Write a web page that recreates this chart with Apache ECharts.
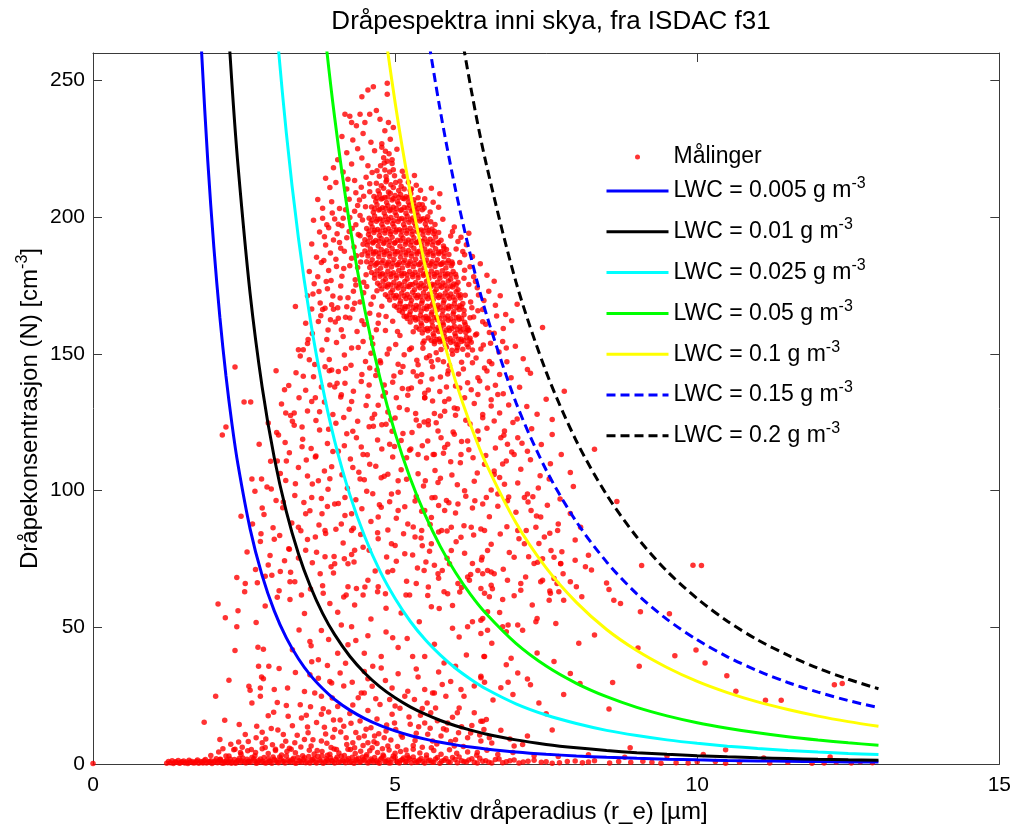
<!DOCTYPE html>
<html><head><meta charset="utf-8">
<script src="https://cdn.jsdelivr.net/npm/echarts@6/dist/echarts.min.js"></script>
<style>html,body{margin:0;padding:0;background:#fff;overflow:hidden}#c{width:1014px;height:829px}</style>
</head><body><div id="c"></div>
<script>
// ---- Data ----
const titleText = 'Dråpespektra inni skya, fra ISDAC f31';
const xName = 'Effektiv dråperadius (r_e) [µm]';
const yName = 'Dråpekonsentrasjon (N) [cm{sup|-3}]';
const xTicks = {min: 0, max: 15, interval: 5};
const yTicks = {min: 0, max: 260, interval: 50};

// radius grid for LWC curves (µm)
const R = [1.6,1.7,1.8,1.9,2.0,2.1,2.2,2.3,2.4,2.6,2.8,3.0,3.2,3.4,3.6,3.8,4.0,4.25,4.5,4.75,5.0,5.25,5.5,5.75,6.0,6.25,6.5,7,7.5,8,8.5,9,9.5,10,10.5,11,11.5,12,12.5,13];
const lwcLabels = ['0.005','0.01','0.025','0.05','0.1','0.15','0.2'];
const N005 = [369.2,307.7,259.3,220.4,189.0,163.3,142.0,124.3,109.4,86.0,68.9,56.0,46.1,38.5,32.4,27.6,23.6,19.7,16.6,14.1,12.1,10.4,9.09,7.95,7.0,6.19,5.51,4.41,3.58,2.95,2.46,2.07,1.76,1.51,1.31,1.14,0.99,0.875,0.774,0.688];
const N01 = [null,null,null,null,378.0,326.5,284.0,248.5,218.8,172.1,137.8,112.0,92.3,76.9,64.8,55.1,47.3,39.4,33.2,28.2,24.2,20.9,18.2,15.9,14.0,12.4,11.0,8.82,7.17,5.91,4.92,4.15,3.53,3.02,2.61,2.27,1.99,1.75,1.55,1.38];
const N025 = [null,null,null,null,null,null,null,null,null,null,344.4,280.0,230.7,192.3,162.0,137.8,118.1,98.5,83.0,70.5,60.5,52.2,45.4,39.8,35.0,31.0,27.5,22.0,17.9,14.8,12.3,10.4,8.82,7.56,6.53,5.68,4.97,4.38,3.87,3.44];
const N05 = [null,null,null,null,null,null,null,null,null,null,null,null,null,null,324.1,275.6,236.3,197.0,165.9,141.1,121.0,104.5,90.9,79.5,70.0,61.9,55.1,44.1,35.8,29.5,24.6,20.7,17.6,15.1,13.1,11.4,9.94,8.75,7.74,6.88];
const N1 = [null,null,null,null,null,null,null,null,null,null,null,null,null,null,null,null,null,null,331.9,282.2,241.9,209.0,181.8,159.1,140.0,123.9,110.1,88.2,71.7,59.1,49.2,41.5,35.3,30.2,26.1,22.7,19.9,17.5,15.5,13.8];
const N15 = [null,null,null,null,null,null,null,null,null,null,null,null,null,null,null,null,null,null,null,null,null,313.5,272.6,238.6,210.0,185.8,165.2,132.2,107.5,88.6,73.9,62.2,52.9,45.4,39.2,34.1,29.8,26.3,23.2,20.6];
const N2 = [null,null,null,null,null,null,null,null,null,null,null,null,null,null,null,null,null,null,null,null,null,null,null,318.1,280.0,247.7,220.2,176.3,143.4,118.1,98.5,83.0,70.5,60.5,52.2,45.4,39.8,35.0,31.0,27.5];

// measurements (flat x,y lists) - r_e [µm], N [cm^-3]
const measBase = [0,0.2,1.22,0.3,1.28,0.5,1.33,0.2,1.38,0.6,1.43,0.3,1.47,0.8,1.52,0.4,1.57,0.2,1.61,0.7,1.66,0.4,1.71,1.0,1.75,0.3,1.8,0.6,1.84,1.2,1.88,0.4,1.93,0.8,1.97,0.2,2.02,1.1,2.06,0.5,2.1,1.6,2.14,0.3,2.19,0.9,2.23,0.5,2.27,1.8,2.31,0.7,2.36,0.3,2.4,1.3,2.44,0.6,2.48,2.2,2.53,0.4,2.57,1.0,2.61,0.6,2.66,1.9,2.7,0.3,2.74,1.2,2.79,0.7,2.83,2.4,2.87,0.5,2.92,1.1,2.96,0.3,3.0,1.7,3.05,0.6,3.09,2.6,3.14,0.9,3.18,0.4,3.23,1.5,3.27,0.7,3.32,2.1,3.36,0.3,3.41,1.2,3.45,0.6,3.5,2.3,3.54,0.9,3.59,0.4,3.63,1.6,3.68,0.7,3.72,2.8,3.77,1.0,3.81,0.3,3.86,1.9,3.9,0.6,3.95,1.3,4.0,0.4,4.04,2.5,4.09,0.8,4.13,1.4,4.18,0.5,4.23,2.0,4.27,0.9,4.32,0.3,4.36,1.7,4.41,0.6,4.46,2.6,4.5,1.1,4.55,0.4,4.6,1.8,4.64,0.7,4.69,1.2,4.74,0.3,4.78,2.2,4.83,0.8,4.88,1.5,4.93,0.5,4.97,2.9,5.02,1.0,5.07,0.4,5.12,1.6,5.17,0.7,5.22,2.3,5.27,0.5,5.32,1.3,5.38,0.8,5.43,2.0,5.49,0.4,5.55,1.1,5.61,0.6,5.67,1.8,5.74,0.3,5.81,1.4,5.88,0.8,5.95,2.4,6.03,0.5,6.1,1.2,6.18,0.7,6.27,1.9,6.36,0.4,6.45,1.0,6.55,0.6,6.66,1.6,6.78,0.5,6.9,1.2,7.05,0.4,7.2,1.0,7.42,0.6,7.6,0.3,7.85,0.9,8.1,0.5,8.3,1.2,8.55,0.4,8.9,0.6,9.1,1.0,9.4,0.3,9.65,0.5,10.0,0.8,10.47,0.3,10.7,0.6,11.2,0.4,11.9,0.3,12.3,0.7,12.55,0.4,12.9,0.5];
const measBase2 = [1.95,3.1,2.08,4.4,2.2,2.9,2.33,5.2,2.45,3.6,2.56,4.8,2.68,3.0,2.8,5.6,2.9,3.8,3.02,4.9,3.12,3.3,3.25,5.8,3.35,4.1,3.47,3.0,3.58,5.0,3.66,3.7,3.79,4.6,3.88,3.2,3.99,5.5,4.07,4.0,4.16,3.1,4.26,5.3,4.34,3.8,4.43,4.7,4.53,3.4,4.62,5.9,4.71,4.2,4.8,3.3,4.9,5.1,5.0,3.9,5.09,4.6,5.2,3.2,5.3,5.4,5.41,4.0,5.52,3.3,5.64,4.9,5.76,3.6,5.9,5.2,6.02,3.9,6.2,4.4,6.35,3.2,6.52,5.0,6.7,3.5,6.95,4.2,7.3,3.0,7.7,2.7,8.2,3.4,8.8,2.5,9.5,2.9,10.1,3.5,11.1,2.2,12.2,2.6];
const measBase3 = [1.25,0.9,1.31,1.2,1.36,0.8,1.41,1.3,1.45,0.5,1.5,1.1,1.55,0.7,1.59,1.4,1.64,0.9,1.69,0.5,1.73,1.5,1.78,0.9,1.82,0.4,1.86,1.6,1.91,0.7,1.95,1.2,2.0,0.6,2.04,1.9,2.08,0.8,2.12,1.2,2.17,0.4,2.21,1.4,2.25,0.9,2.29,0.3,2.34,1.6,2.38,0.8,2.42,2.0,2.46,1.1,2.51,0.7,2.55,1.7,2.59,0.9,2.63,2.4,2.68,1.1,2.72,0.5,2.77,1.8,2.81,1.0,2.85,0.4,2.9,2.0,2.94,0.9,2.98,2.6,3.03,1.2,3.07,0.5,3.11,1.8,3.16,1.1,3.2,2.9,3.25,0.9,3.3,1.6,3.34,0.5,3.39,2.4,3.43,1.0,3.48,1.6,3.52,0.5,3.57,2.7,3.61,1.1,3.66,2.0,3.7,0.4,3.75,1.5,3.79,2.9,3.84,0.8,3.88,1.4,3.93,2.3,3.97,0.9,4.02,1.7,4.06,0.6,4.11,2.8,4.15,1.0,4.2,1.5,4.25,0.6,4.29,2.5,4.34,1.1,4.39,2.1,4.43,0.8,4.48,1.6,4.52,2.7,4.57,0.9,4.62,1.3,4.66,2.4,4.71,0.6,4.76,1.7,4.81,2.8,4.85,1.0,4.9,0.4,4.95,1.9,5.0,2.5,5.04,0.7,5.09,1.3,5.14,2.2,5.19,0.9,5.24,1.8,5.3,2.6,5.35,0.6,5.4,1.5,5.46,0.9,5.52,2.2,5.58,1.4,5.64,0.6,5.7,2.4,5.77,1.0,5.84,2.0,5.91,0.6,5.99,1.6,6.06,2.6,6.14,0.9,6.22,1.5,6.31,0.6,6.4,2.1,6.5,1.2,6.6,0.4,6.72,1.8,6.84,0.8,6.97,1.5,7.12,0.7,7.3,1.4,7.5,0.8,7.72,0.5,7.98,1.1,8.2,0.7,8.7,0.9,9.25,0.6,9.85,0.4,10.3,0.9,11.5,0.6,12.1,0.4,12.7,0.8];
const measLow = [2.38,50.2,2.35,41.5,2.25,30.6,2.03,24.8,1.84,15.3,2.18,16.0,2.42,14.4,2.1,9,2.41,8,2.57,8.2,2.73,42.7,2.82,42,2.74,35.7,2.91,35.7,2.79,31.8,2.82,31.2,2.58,28.4,2.6,27,2.77,27.8,2.77,24.8,2.63,22.3,2.99,18.9,2.8,11.6,2.7,9.6,3.41,49.0,3.61,43.2,3.59,44.8,3.73,38.1,3.78,48.8,4.11,50.8,4.28,50.2,4.22,43.6,4.96,46.2,4.77,39.3,4.63,35.7,4.49,40.5,4.49,33.8,4.29,29.9,4.09,33.3,3.95,29.6,3.92,30.2,3.73,31.4,3.78,24.8,3.67,26,3.81,20.2,3.78,18.2,3.43,21.7,3.23,17.5,3.22,27.8,3.0,27.2,3.59,32.6,3.98,16.1,4.09,16.1,4.0,12.6,4.19,9.6,4.44,26,4.39,24.2,4.49,26,4.77,35.1,4.91,23.6,5.16,24.8,5.21,26.6,5.32,23.6,5.49,27.2,5.62,26,5.53,22.3,5.59,18.7,5.67,20.5,5.84,24.8,6.06,20.5,6.09,27.2,6.14,24.8,5.87,15,6.03,18.7,6.31,18.7,6.42,15.6,6.47,12.6,5.81,36.9,5.65,26,5.62,8.4,5.49,15,5.76,10.2,5.98,6.6,6.2,9.6,6.36,4.2,6.42,8.4,4.99,15,5.01,12.6,4.82,9.6,4.88,6.6,4.66,10.2,4.49,10.2,4.55,7.8,4.3,7.8,4.22,5.4,3.94,6.0,3.92,3.6,3.61,6.6,3.78,8.4,3.56,11.4,3.5,9,3.34,7.8,3.28,5.4,3.13,6.6,3.02,5.4,2.85,6,2.8,7.8,2.69,4.2,2.44,4.2,2.35,5.4,2.25,2.9,2.11,1.7,5.29,39.3,5.49,39.3,6.42,47.7,6.53,48.9,6.06,46.4,6.47,39.3,6.42,31.5,6.31,28.5,6.0,35.7,5.92,30.2,3.3,14,3.45,16.8,3.55,13.5,3.7,15.2,3.85,11,3.9,19,4.05,21,4.15,13.8,4.25,18.5,4.35,11.5,4.42,15.7,4.55,19.6,4.6,13.3,4.7,16.5,4.75,21.8,4.85,12.1,4.95,18.2,5.08,20.4,5.12,9.8,5.25,14.5,5.35,11.2,5.42,17.8,5.58,13.1,5.7,15.8,5.85,12.4,5.95,17.1,6.1,13.6,6.25,11.3,3.15,10.8,2.95,13,3.05,22.5,3.35,33.5,3.5,26.5,3.88,36,4.05,40.5,4.18,36.8,4.62,28.4,4.84,30.5,5.05,33,5.38,31.8,5.72,33.6,6.18,39.9,5.05,42.6,4.55,46.9,3.9,45.5,4.7,7.5,5.3,6.8,5.6,5.9,6.0,8.9,6.42,32.1,6.48,29.9,6.48,39.3,6.92,38.7,6.84,36.3,7.03,33.3,6.87,29.9,7.19,31.1,7.24,29.0,6.95,25.4,6.62,23.4,6.45,15.6,6.51,16.3,6.56,9.6,7.19,10.2,7.11,7.1,6.97,6.6,7.63,37.5,7.38,22.3,7.79,25.4,8.04,44.2,9.02,42.4,9.04,35.7,8.54,20.1,8.06,29.4,7.6,12.4,8.89,5.9,9.63,39.6,9.98,41.7,10.13,36.9,10.49,32.3,10.64,26.6,11.13,23.3,11.39,23.3,12.27,29.0,12.4,29.4,10.47,5.2,6.84,48.4,7.11,48.9];
const measLow2 = [2.15,5.6,2.28,7.2,2.47,6.1,2.52,10.8,2.62,5.3,2.71,13.8,2.86,9.1,2.97,7.0,3.06,12.4,3.19,8.3,3.21,4.6,3.38,10.5,3.44,6.2,3.53,17.8,3.64,8.9,3.71,4.9,3.83,13.4,3.87,7.6,3.97,9.8,4.03,5.3,4.1,11.7,4.2,7.1,4.27,14.9,4.33,5.9,4.4,9.6,4.47,6.8,4.52,12.7,4.58,4.8,4.65,8.1,4.73,11.1,4.79,5.6,4.86,14.3,4.93,8.8,5.04,6.4,5.1,10.6,5.18,5.1,5.23,17.2,5.33,8.6,5.39,13.6,5.45,6.1,5.54,10.9,5.69,7.3,5.8,12.9,5.92,8.2,6.05,11.4,6.13,6.4,6.27,14.1,6.4,10.6,6.6,7.7,6.75,12.3,6.9,9.1,3.6,20.9,3.96,24.1,4.3,21.6,4.68,23.9,5.0,21.2,5.45,20.3,2.9,17.6,3.2,21.4,4.15,28.5,4.55,31.2,4.95,27.8,5.35,34.7,5.78,29.1,3.62,37.4,4.35,45.2,4.85,48.3,5.2,45.9,5.65,43.8,5.95,49.6,3.3,41.8,3.08,34.9,6.6,44.2,6.75,27.9,7.35,40.6,7.5,18.4,7.9,33.1,8.3,47.2,8.6,29.8];
const measMid = [2.07,58.5,2.19,53.5,2.38,68.2,2.52,66,2.51,63,2.4,56,2.7,51.7,2.85,57.8,2.69,71.1,2.85,68.7,2.96,69,3.17,74.3,3.26,66.6,3.34,66.6,3.26,60.2,3.81,62.4,3.76,69.6,3.92,58.7,3.94,72.1,4.16,75.1,4.22,64.8,4.36,64.2,4.19,61.8,4.33,58.1,4.47,61.8,4.55,67.2,4.72,64.8,4.71,63,4.88,70.2,4.96,70.8,5.18,61.8,5.24,61.8,5.1,55.2,6.28,73.3,6.53,70.8,6.45,69.6,6.23,67.2,6.42,64.2,6.56,61.2,5.6,57.5,5.73,56.9,5.81,63,5.78,70.8,5.48,70.8,5.51,73.9,5.65,72.7,3.5,55,3.6,64,4.05,55.5,4.6,53,4.85,57,5.35,66,5.95,58,6.1,64.5,5.4,52,3.05,61,6.45,53.2,6.28,52,6.2,50.2,6.59,70.2,6.48,62.4,6.59,65.4,6.53,55.7,6.42,52.6,6.78,60.2,6.73,55.4,6.87,50.8,7.03,50.8,7.3,73.3,7.44,75.1,7.41,66.6,7.08,66,7.27,58.1,7.35,53.2,7.33,52,7.66,51.4,7.63,67.8,7.68,66,7.57,62.4,7.71,63,7.55,59.9,7.79,59.9,7.74,73.3,7.9,66.6,7.98,74.5,8.09,61.2,8.15,72.1,8.54,63.8,8.62,59.9,8.73,58.7,9.06,55.7,9.54,54.9,9.93,72.7,6.78,50.2,2.14,120.3,2.2,123.2,2.5,132.4,2.61,132.4,2.75,116.9,2.63,104.2,2.79,104.2,2.68,99.7,2.8,93.6,2.64,87.8,2.78,84.2,3.03,143.8,3.17,136.9,3.07,120.3,3.2,110.8,3.05,110.8,3.46,123.2,3.53,111.2,3.68,112.3,3.33,128.4,3.19,128.4,3.3,125.3,3.46,116,3.48,141.8,3.62,132.6,3.68,133.9,3.84,145.3,3.95,144.1,4.06,143.5,3.92,138.6,4.0,137.9,4.17,139.2,4.11,135,4.28,132.6,4.44,139.9,4.58,144.8,5.27,137.5,5.49,133.9,5.82,129,5.76,119.3,5.65,113.2,5.71,102.9,5.5,103.6,5.38,113.2,5.19,112,4.91,116.9,5.0,126.5,4.78,124.1,4.64,123.5,4.36,119.3,4.47,113.2,4.58,109.6,4.42,104.2,4.53,99.7,4.88,106.0,5.05,103.6,4.94,98.7,4.77,93.9,4.72,90.3,5.05,92.7,5.21,87.8,5.33,83,5.16,76.9,4.94,80.5,4.72,82.4,4.47,79.3,4.28,85.4,4.11,87.8,3.84,85.4,3.68,83,3.52,78.2,3.84,75.8,4.0,73.2,4.22,73.2,4.33,78.2,4.0,95.1,3.89,100.5,4.17,97.5,4.28,91.5,3.79,91.5,3.62,97.5,3.52,91.5,3.73,103.6,4.06,114.4,5.38,146,5.44,142.4,5.49,133.9,5.71,147.8,5.82,132.6,5.98,130.2,6.15,133.9,6.07,137.5,6.2,139.4,6.37,141.2,6.48,144.8,6.56,147.2,6.73,142.4,6.59,130.9,6.64,125.4,6.81,121.8,6.86,116.9,6.75,119.3,6.45,127.8,6.37,121.8,6.2,118.1,5.98,120.6,5.71,121.8,5.55,124.1,5.63,113.2,5.87,116.9,6.09,113.2,6.29,112,6.48,109.6,6.64,107.1,6.84,110.8,6.97,113.2,7.03,119.3,7.19,114.4,6.81,102.3,6.7,98.7,6.51,97.5,6.32,96.3,6.15,99.9,6.04,95.1,5.82,92.7,5.66,97.5,5.49,92.7,5.44,85.4,5.6,80.5,5.77,85.4,5.93,86.6,5.93,78.1,6.09,82.9,6.26,86.6,6.48,85.4,6.53,78.1,6.37,70.8,6.2,68.4,6.04,66,5.71,69.6,5.55,64.7,5.87,62.3,6.64,69.6,6.86,67.2,7.08,63.5,7.25,92.7,7.33,86.6,7.41,90.3,7.47,83,7.58,78.1,7.69,85.4,7.63,75.6,7.03,85.4,7.14,80.5,6.97,75.6,7.19,98.7,7.14,97.5,7.28,97.7,6.86,96.3,7.8,136.3,7.19,144.3,8.3,115.1,8.67,96,9.08,72.6,10.07,72.6,7.6,126,8.07,86.6,7.74,73.2,7.44,67.2,6.7,135.1,6.37,135.1,6.53,137.5,6.2,149.6,4.6,150.2,4.75,147.5,4.9,151.8,5.05,146.2,5.15,149.7,4.68,142.1,4.82,138.6,4.98,141.9,5.12,137.3,5.3,143.4,5.42,139.8,4.55,134.5,4.72,131.2,4.88,128.7,5.02,133.9,5.2,129.5,5.35,125.8,4.62,126.4,4.95,121.7,5.1,118.3,5.28,121.2,5.45,116.4,4.78,115.2,5.6,147.2,5.75,141.5,5.9,145.8,6.05,142.6,5.55,136.8,5.85,137.9,6.0,127.5,5.65,128.2,5.55,125.5,5.92,110.5,5.35,97.8,5.6,90.1,5.45,79.8,5.85,96.4,3.35,102.5,3.15,95.8,3.4,86.6,3.0,82.2,3.25,78.5,2.95,100.6,2.9,124.7,3.58,147.8,3.75,128.8,3.9,122.4,4.15,126.7,4.3,108.4,4.2,120.8,3.95,108.7,2.55,77.5,2.45,90.6,3.1,70.4,2.35,145.2];
const measMid2 = [4.22,213.8,4.35,208.9,4.52,214.6,4.41,206.2,4.58,209.3,5.22,212.7,5.31,205.1,5.42,209.8,5.15,214.9,4.62,216.3,5.12,216.8,5.45,204.5,3.96,201.5,4.06,197.4,4.18,202.7,4.29,195.8,4.33,202.1,4.46,198.9,4.51,203.8,4.14,199.6,5.58,201.9,5.66,197.3,5.72,203.6,5.79,199.2,5.63,205.4,3.87,197.2,3.83,192.8,3.93,186.9,4.04,193.9,4.16,187.5,4.24,194.7,4.36,185.9,4.47,190.1,4.39,193.6,4.08,190.7,5.92,193.1,6.01,188.3,6.09,192.6,6.18,189.9,5.98,196.4,6.22,194.1,3.72,178.2,3.82,184.1,3.94,176.8,4.03,181.9,4.12,178.4,4.25,182.2,4.34,177.1,4.43,183.6,4.52,178.9,4.48,176.2,6.07,183.4,6.14,177.6,6.24,181.8,6.33,176.4,6.41,182.9,6.52,178.7,6.28,185.6,3.64,171.9,3.76,168.6,3.88,173.8,3.98,166.3,4.09,170.4,4.2,167.2,4.31,172.9,4.42,168.9,4.53,174.6,4.64,170.8,4.78,167.4,4.7,173.1,6.16,171.4,6.27,166.8,6.36,174.2,6.47,169.5,6.55,172.9,6.66,167.8,6.74,171.2,3.52,161.2,3.63,157.4,3.77,163.9,3.89,158.7,4.01,161.6,4.14,156.3,4.25,163.1,4.37,158.2,4.49,160.7,4.61,155.9,4.73,164.2,4.84,158.5,4.96,161.9,5.08,156.7,5.19,163.7,5.3,158.1,5.12,165.2,6.24,163.2,6.33,156.9,6.45,161.7,6.56,157.8,6.68,163.8,6.79,159.3,6.93,162.1,3.43,149.2,3.55,153.8,3.67,146.1,3.79,151.4,3.91,147.9,4.03,154.1,4.16,149.6,4.27,145.8,4.39,152.3,4.51,147.2,4.63,153.6,4.76,146.7,4.87,149.9,5.01,153.4,5.13,145.4,5.24,151.6,5.36,147.6,5.48,154.7,5.57,149.3,6.34,148.5,6.46,153.2,6.6,146.4,6.72,150.7,6.85,147.1,6.99,152.8,7.12,148.2,3.24,138.4,3.36,143.1,3.52,136.7,3.65,141.6,3.78,137.9,3.91,143.8,4.04,139.2,4.18,144.6,4.31,136.3,4.45,142.4,4.57,138.6,4.7,144.1,4.84,135.8,4.96,139.6,5.09,143.3,5.22,137.1,5.36,141.9,5.49,135.6,5.61,140.8,5.74,136.2,5.87,142.6,6.0,138.2,6.13,144.4,6.26,136.9,6.4,140.1,6.52,143.7,6.66,138.5,6.79,135.4,6.92,141.2,7.06,137.8,7.24,142.9,3.12,131.6,3.27,127.4,3.41,133.9,3.55,129.1,3.69,125.6,3.83,132.4,3.97,127.8,4.1,134.2,4.24,129.7,4.38,125.3,4.52,131.1,4.66,127.9,4.8,134.6,4.93,125.9,5.07,130.4,5.21,134.8,5.34,128.2,5.48,125.1,5.62,132.7,5.75,127.3,5.89,133.5,6.03,129.9,6.17,125.7,6.31,131.8,6.45,126.6,6.59,133.2,6.73,128.4,6.88,131.3,7.02,126.2,7.18,130.7,7.35,127.9,7.5,133.4,3.04,121.2,3.18,117.6,3.33,123.9,3.47,118.8,3.61,115.4,3.75,122.1,3.88,117.2,4.02,124.6,4.16,116.4,4.3,121.7,4.44,115.9,4.57,123.3,4.71,118.5,4.85,124.2,4.99,116.1,5.13,120.9,5.26,115.2,5.4,123.7,5.54,118.1,5.68,124.8,5.82,115.7,5.96,121.4,6.1,117.9,6.24,124.3,6.38,118.7,6.52,122.8,6.66,115.6,6.8,120.2,6.95,124.9,7.1,117.3,7.26,122.6,7.42,116.8,7.6,120.5,2.94,110.7,3.1,106.2,3.25,113.8,3.4,108.4,3.55,105.3,3.69,112.6,3.83,107.1,3.97,114.3,4.12,105.8,4.26,111.5,4.4,106.7,4.54,113.1,4.68,108.9,4.82,105.2,4.96,112.3,5.1,107.6,5.24,114.7,5.38,106.1,5.52,111.9,5.66,107.3,5.8,113.6,5.94,105.7,6.08,110.2,6.22,114.9,6.36,106.4,6.5,112.8,6.64,105.9,6.78,109.7,6.93,114.1,7.08,107.8,7.24,111.3,7.4,105.4,7.57,109.8,7.75,113.2,7.9,106.6,2.88,101.3,3.03,96.4,3.19,103.7,3.34,98.2,3.49,95.6,3.63,102.4,3.78,97.1,3.92,104.3,4.06,95.3,4.21,100.8,4.35,96.6,4.49,103.9,4.63,98.8,4.77,104.7,4.91,95.9,5.05,99.4,5.19,104.1,5.33,96.2,5.47,101.7,5.61,97.4,5.75,104.5,5.89,95.5,6.03,102.1,6.17,97.9,6.31,103.4,6.45,95.1,6.59,100.2,6.73,104.8,6.88,97.6,7.03,102.8,7.2,95.8,7.37,100.9,7.55,104.2,7.73,96.9,7.95,101.5,2.83,91.2,2.98,86.4,3.14,93.7,3.29,88.1,3.44,85.3,3.59,92.6,3.74,87.4,3.88,94.2,4.02,85.8,4.17,90.9,4.31,86.2,4.45,93.3,4.6,88.7,4.74,94.8,4.88,85.6,5.02,89.9,5.16,94.1,5.3,86.7,5.44,92.4,5.58,87.6,5.72,94.5,5.86,85.2,6.0,91.8,6.14,87.1,6.28,93.6,6.42,85.9,6.56,90.4,6.7,94.3,6.85,86.8,7.0,92.1,7.17,85.4,7.34,90.7,7.52,94.6,7.7,87.8,7.9,91.6,2.77,81.4,2.93,76.2,3.09,83.6,3.24,78.7,3.4,75.3,3.55,82.1,3.7,77.4,3.85,84.3,3.99,75.9,4.14,80.8,4.28,76.6,4.43,83.9,4.57,78.2,4.71,84.6,4.86,75.7,5.0,79.9,5.14,84.2,5.29,76.4,5.43,82.6,5.57,77.8,5.72,84.8,5.86,75.2,6.01,81.3,6.15,77.1,6.3,83.7,6.44,75.6,6.59,80.4,6.74,84.1,6.89,77.3,7.05,82.4,7.21,75.8,7.38,80.6,7.56,84.4,7.76,77.6,7.98,81.9,8.2,76.3,2.72,66.3,2.9,72.8,3.08,63.4,3.27,70.1,3.45,61.8,3.63,73.6,3.8,65.2,3.98,69.8,4.15,61.1,4.32,73.9,4.5,64.7,4.67,70.6,4.84,62.3,5.02,74.1,5.19,66.8,5.37,71.7,5.54,61.6,5.72,67.9,5.9,73.2,6.07,62.9,6.25,69.3,6.43,74.6,6.61,64.1,6.79,71.2,6.97,61.5,7.16,68.4,7.36,73.8,7.56,63.3,7.78,69.6,8.0,64.8,8.25,70.9,8.5,66.2];
const measHigh = [4.64,247.7,4.55,246.5,4.45,244,4.87,248.9,4.87,244.9,4.17,237.6,4.25,236.9,4.42,237.6,4.58,237.6,4.69,239,4.28,234.6,4.5,234.6,4.36,233.4,4.75,235.8,4.89,234.6,4.83,231.6,4.97,232.8,4.12,229.5,4.3,228.2,4.47,230.6,4.6,227.4,4.38,225,4.2,223.5,4.05,221,3.98,218,4.14,216.5,4.28,219.4,4.45,221.6,4.55,218.8,4.66,224.3,4.78,226.8,4.92,228.5,5.03,224.8,4.95,221,4.82,219.8,4.7,216.9,4.85,214.8,4.97,217.3,5.08,213.1,3.85,214.2,3.92,210.8,4.02,212.6,4.2,210.3,4.33,213.4,4.44,210.9,4.58,212.2,5.25,209.8,5.38,207.1,5.6,210.5,5.48,203.3,3.72,206.4,3.8,203.2,3.95,205.6,4.08,203.1,4.24,206.5,4.38,204.2,4.48,207.6,3.65,198.8,3.75,194.5,3.62,190.2,3.7,185.3,3.58,180.1,3.66,175.6,3.55,171.2,3.62,166.4,3.8,199.6,3.9,196.1,4.0,199.3,4.12,196.8,4.25,199.8,4.35,197.2,4.42,200.6,3.85,189.8,3.98,191.6,4.1,188.6,4.2,192.4,4.32,189.1,4.42,193.2,3.78,183.4,3.9,180.5,4.02,184.6,4.15,181.2,4.28,184.9,4.38,181.6,4.45,186.2,3.74,172.8,3.86,176.4,3.97,171.1,4.1,174.8,4.22,170.5,4.35,175.2,4.48,172.3,4.6,168.1,3.8,166.2,3.93,162.5,4.05,166.8,4.18,163.4,4.3,166.3,4.45,162.1,4.58,164.8,4.72,161.2,5.74,208.5,5.32,215.2,5.35,211.6,5.27,210.3,5.49,206.7,6.04,191.1,5.95,194.7,5.81,188.6,6.15,186.2,6.64,176.5,6.83,164.4,7.02,168.1,6.37,165.7,3.4,151.5,3.35,167.3,3.48,151.5,3.56,155.2,3.87,155.2,4.47,154.5,4.28,152.1,4.11,158.8,4.06,163.0,3.84,166.7,3.95,167.9,4.33,168.5,3.73,161.8,4.69,158.8,4.85,163.6,5.04,158.2,5.27,152.1,5.46,153.9,5.54,163,5.65,154.5,6.78,154.5,6.64,157.5,6.84,152.1,7.44,159.6,6.04,153.3,5.46,152,6.3,163.5,6.35,157.2,6.42,151.8,6.28,146.7,6.5,160.8,6.58,153.9,6.25,168.9,6.45,166.2,6.38,171.5,6.22,175.3,6.15,180.6,6.12,187.4,6.3,178.2,5.52,148.6,5.68,150.4,5.8,147.1,5.95,149.8,6.1,146.9,5.62,145.3,5.88,143.8,6.02,151.2];
const measCore = [4.78,225.5,4.84,224.1,4.9,223.2,4.81,221.7,4.87,220.4,4.95,219.6,4.76,218.8,4.83,217.2,4.91,216.5,4.99,215.1,4.74,214.9,4.86,213.6,4.69,212.4,4.77,211.5,4.85,212.9,4.93,211.8,5.01,212.6,5.1,211.3,4.72,209.6,4.81,210.5,4.89,209.2,4.97,210.8,5.06,209.7,5.15,210.3,4.65,207.5,4.74,208.4,4.83,207.2,4.92,208.7,5.0,207.9,5.09,208.3,5.18,207.4,5.26,208.6,4.68,205.8,4.77,206.6,4.86,205.3,4.95,206.2,5.04,205.6,5.13,206.9,5.22,205.4,5.31,206.3,4.61,203.7,4.7,204.5,4.79,203.4,4.88,204.1,4.97,203.6,5.06,204.8,5.15,203.5,5.24,204.3,5.33,203.8,5.4,204.6,4.64,201.8,4.73,202.6,4.82,201.5,4.91,202.3,5.0,201.7,5.09,202.5,5.18,201.4,5.27,202.2,5.36,201.9,5.45,202.7,4.57,199.6,4.66,200.4,4.75,199.3,4.84,200.2,4.93,199.8,5.02,200.6,5.11,199.5,5.2,200.3,5.29,199.7,5.38,200.5,5.47,199.4,5.54,200.1,4.6,197.7,4.69,198.5,4.78,197.4,4.87,198.2,4.96,197.6,5.05,198.4,5.14,197.3,5.23,198.1,5.32,197.8,5.41,198.6,5.5,197.5,5.59,198.3,4.53,195.8,4.62,196.4,4.71,195.5,4.8,196.3,4.89,195.7,4.98,196.5,5.07,195.4,5.16,196.2,5.25,195.9,5.34,196.6,5.43,195.3,5.52,196.1,5.61,195.6,4.56,193.6,4.65,194.4,4.74,193.3,4.83,194.2,4.92,193.8,5.01,194.5,5.1,193.4,5.19,194.1,5.28,193.7,5.37,194.6,5.46,193.5,5.55,194.3,5.64,193.9,5.72,194.4,4.5,191.7,4.59,192.5,4.68,191.4,4.77,192.2,4.86,191.8,4.95,192.6,5.04,191.5,5.13,192.3,5.22,191.6,5.31,192.4,5.4,191.3,5.49,192.1,5.58,191.9,5.67,192.7,5.76,191.5,4.54,189.8,4.63,190.5,4.72,189.4,4.81,190.3,4.9,189.6,4.99,190.4,5.08,189.3,5.17,190.1,5.26,189.7,5.35,190.6,5.44,189.5,5.53,190.2,5.62,189.8,5.71,190.5,5.8,189.4,4.5,187.6,4.59,188.3,4.68,187.3,4.77,188.1,4.86,187.7,4.95,188.5,5.04,187.4,5.13,188.2,5.22,187.8,5.31,188.6,5.4,187.5,5.49,188.3,5.58,187.6,5.67,188.4,5.76,187.3,5.85,188.1,4.55,185.8,4.64,186.5,4.73,185.4,4.82,186.2,4.91,185.6,5.0,186.4,5.09,185.3,5.18,186.1,5.27,185.7,5.36,186.5,5.45,185.4,5.54,186.2,5.63,185.9,5.72,186.6,5.81,185.5,5.89,186.3,4.53,183.7,4.62,184.4,4.71,183.3,4.8,184.1,4.89,183.6,4.98,184.5,5.07,183.4,5.16,184.2,5.25,183.8,5.34,184.6,5.43,183.5,5.52,184.3,5.61,183.7,5.7,184.4,5.79,183.3,5.88,184.1,5.94,183.6,4.58,181.6,4.67,182.4,4.76,181.3,4.85,182.2,4.94,181.7,5.03,182.5,5.12,181.4,5.21,182.3,5.3,181.8,5.39,182.6,5.48,181.5,5.57,182.2,5.66,181.9,5.75,182.7,5.84,181.4,5.93,182.2,4.61,179.7,4.7,180.4,4.79,179.3,4.88,180.2,4.97,179.6,5.06,180.5,5.15,179.4,5.24,180.1,5.33,179.8,5.42,180.6,5.51,179.5,5.6,180.3,5.69,179.7,5.78,180.4,5.87,179.3,5.96,180.1,4.66,177.6,4.75,178.4,4.84,177.3,4.93,178.2,5.02,177.7,5.11,178.5,5.2,177.4,5.29,178.2,5.38,177.8,5.47,178.6,5.56,177.5,5.65,178.3,5.74,177.6,5.83,178.4,5.92,177.3,6.01,178.1,4.71,175.8,4.8,176.5,4.89,175.4,4.98,176.2,5.07,175.6,5.16,176.4,5.25,175.3,5.34,176.1,5.43,175.7,5.52,176.5,5.61,175.4,5.7,176.2,5.79,175.9,5.88,176.6,5.97,175.5,6.04,176.2,4.78,173.7,4.87,174.4,4.96,173.3,5.05,174.1,5.14,173.6,5.23,174.5,5.32,173.4,5.41,174.2,5.5,173.8,5.59,174.6,5.68,173.5,5.77,174.3,5.86,173.7,5.95,174.4,6.04,173.4,4.84,171.6,4.93,172.4,5.02,171.3,5.11,172.2,5.2,171.7,5.29,172.5,5.38,171.4,5.47,172.3,5.56,171.8,5.65,172.6,5.74,171.5,5.83,172.2,5.92,171.9,6.01,172.7,6.08,171.6,4.91,169.7,5.0,170.4,5.09,169.3,5.18,170.2,5.27,169.6,5.36,170.5,5.45,169.4,5.54,170.1,5.63,169.8,5.72,170.6,5.81,169.5,5.9,170.3,5.99,169.7,6.08,170.4,4.99,167.6,5.08,168.4,5.17,167.3,5.26,168.2,5.35,167.7,5.44,168.5,5.53,167.4,5.62,168.2,5.71,167.8,5.8,168.6,5.89,167.5,5.98,168.3,6.07,167.6,6.12,168.4,5.07,165.8,5.16,166.5,5.25,165.4,5.34,166.2,5.43,165.6,5.52,166.4,5.61,165.3,5.7,166.1,5.79,165.7,5.88,166.5,5.97,165.4,6.06,166.2,6.14,165.8,5.15,163.7,5.24,164.4,5.33,163.3,5.42,164.1,5.51,163.6,5.6,164.5,5.69,163.4,5.78,164.2,5.87,163.8,5.96,164.6,6.05,163.5,6.14,164.3,5.25,161.6,5.34,162.4,5.43,161.3,5.52,162.2,5.61,161.7,5.7,162.5,5.79,161.4,5.88,162.3,5.97,161.8,6.06,162.6,6.15,161.5,5.35,159.7,5.44,160.4,5.53,159.3,5.62,160.2,5.71,159.6,5.8,160.5,5.89,159.4,5.98,160.1,6.07,159.8,6.16,160.6,6.2,159.5,5.45,157.6,5.54,158.4,5.63,157.3,5.72,158.2,5.81,157.7,5.9,158.5,5.99,157.4,6.08,158.2,6.17,157.8,6.22,158.6,5.55,155.8,5.64,156.5,5.73,155.4,5.82,156.2,5.91,155.6,6.0,156.4,6.09,155.3,6.18,156.1,6.24,155.7,5.65,153.7,5.74,154.4,5.83,153.3,5.92,154.1,6.01,153.6,6.1,154.5,6.19,153.4,6.26,154.2,5.76,151.6,5.85,152.4,5.94,151.3,6.03,152.2,6.12,151.7,6.21,152.5,6.28,151.4];
const measCore2 = [4.7,207.0,4.79,206.9,4.88,207.3,4.97,206.8,5.06,207.2,5.15,206.7,5.22,207.1,4.66,203.0,4.75,202.9,4.84,203.2,4.93,202.8,5.02,203.1,5.11,202.7,5.2,203.3,5.29,202.9,5.38,203.1,4.62,198.9,4.71,199.2,4.8,198.8,4.89,199.1,4.98,198.7,5.07,199.3,5.16,198.9,5.25,199.0,5.34,198.8,5.43,199.2,5.52,198.9,4.57,194.9,4.66,195.2,4.75,194.8,4.84,195.1,4.93,194.7,5.02,195.3,5.11,194.9,5.2,195.0,5.29,194.8,5.38,195.2,5.47,194.9,5.56,195.1,5.65,194.8,4.55,191.0,4.64,190.9,4.73,191.2,4.82,190.8,4.91,191.1,5.0,190.7,5.09,191.3,5.18,190.9,5.27,191.0,5.36,190.8,5.45,191.2,5.54,190.9,5.63,191.1,5.72,190.8,4.55,186.9,4.64,187.2,4.73,186.8,4.82,187.1,4.91,186.7,5.0,187.3,5.09,186.9,5.18,187.0,5.27,186.8,5.36,187.2,5.45,186.9,5.54,187.1,5.63,186.8,5.72,187.2,5.81,186.9,4.6,183.0,4.69,182.9,4.78,183.2,4.87,182.8,4.96,183.1,5.05,182.7,5.14,183.3,5.23,182.9,5.32,183.0,5.41,182.8,5.5,183.2,5.59,182.9,5.68,183.1,5.77,182.8,5.86,183.2,5.95,182.9,4.66,178.9,4.75,179.2,4.84,178.8,4.93,179.1,5.02,178.7,5.11,179.3,5.2,178.9,5.29,179.0,5.38,178.8,5.47,179.2,5.56,178.9,5.65,179.1,5.74,178.8,5.83,179.2,5.92,178.9,6.0,179.1,4.75,175.0,4.84,174.9,4.93,175.2,5.02,174.8,5.11,175.1,5.2,174.7,5.29,175.3,5.38,174.9,5.47,175.0,5.56,174.8,5.65,175.2,5.74,174.9,5.83,175.1,5.92,174.8,6.01,175.2,4.88,170.9,4.97,171.2,5.06,170.8,5.15,171.1,5.24,170.7,5.33,171.3,5.42,170.9,5.51,171.0,5.6,170.8,5.69,171.2,5.78,170.9,5.87,171.1,5.96,170.8,6.05,171.2,5.03,167.0,5.12,166.9,5.21,167.2,5.3,166.8,5.39,167.1,5.48,166.7,5.57,167.3,5.66,166.9,5.75,167.0,5.84,166.8,5.93,167.2,6.02,166.9,6.1,167.1,5.2,162.9,5.29,163.2,5.38,162.8,5.47,163.1,5.56,162.7,5.65,163.3,5.74,162.9,5.83,163.0,5.92,162.8,6.01,163.2,6.1,162.9,5.4,159.0,5.49,158.9,5.58,159.2,5.67,158.8,5.76,159.1,5.85,158.7,5.94,159.3,6.03,158.9,6.12,159.0,6.2,158.8,5.6,154.9,5.69,155.2,5.78,154.8,5.87,155.1,5.96,154.7,6.05,155.3,6.14,154.9,6.23,155.0];

// ---- Build ----
function pairs(a){const o=[];for(let i=0;i<a.length;i+=2)o.push([a[i],a[i+1]]);return o;}
function curve(vals){const o=[];for(let i=0;i<R.length;i++){if(vals[i]!=null)o.push([R[i],vals[i]]);}return o;}
const meas = [].concat(pairs(measBase),pairs(measBase2),pairs(measBase3),pairs(measLow),pairs(measLow2),pairs(measMid),pairs(measMid2),pairs(measHigh),pairs(measCore),pairs(measCore2));
const curveVals = [N005,N01,N025,N05,N1,N15,N2];
const curveColors = ['#0000ff','#000000','#00ffff','#00ff00','#ffff00','#0000ff','#000000'];
const curveTypes = ['solid','solid','solid','solid','solid',[9,5],[9,5]];
const names = lwcLabels.map(v => 'LWC = ' + v + ' g m');

const FF = '"Liberation Sans", Arial, Helvetica, sans-serif';
const AX = '#3a3a3a';
const chart = echarts.init(document.getElementById('c'), null, {renderer:'canvas', width:1014, height:829});

const series = [{
  type:'scatter', name:'Målinger', data: meas, symbol:'circle', symbolSize:5.5,
  itemStyle:{color:'#ff0000'}, silent:true, z:2, animation:false
}];
curveVals.forEach((v,i)=>{
  series.push({type:'line', name:names[i], data:curve(v), showSymbol:false, symbol:'none', smooth:0.3,
    lineStyle:{color:curveColors[i], width:3, type:curveTypes[i]}, itemStyle:{color:curveColors[i]},
    silent:true, z:3, animation:false, clip:true});
});

const axisCommon = {
  axisLine:{show:true, onZero:false, lineStyle:{color:AX, width:1}},
  axisTick:{show:true, inside:true, length:9, lineStyle:{color:AX, width:1}},
  splitLine:{show:false}
};

chart.setOption({
  animation:false,
  backgroundColor:'#ffffff',
  title:{show:false, text:titleText},
  graphic:[{type:'text', x:551, y:22, silent:true,
    style:{text:titleText, fontSize:26, fontFamily:FF, fill:'#000', align:'center', verticalAlign:'middle'}}],
  grid:{left:93, top:53, width:911, height:715, containLabel:false},
  legend:[
    {data:['Målinger'], orient:'vertical', left:630, top:138, itemWidth:62, itemHeight:5, selectedMode:false,
      textStyle:{fontSize:23, color:'#000', fontFamily:FF, lineHeight:28}},
    {data:names, orient:'vertical', left:600, top:171, itemWidth:62, itemHeight:28, itemGap:10.8, selectedMode:false,
      formatter:(n)=> n + '{sup|-3}',
      itemStyle:{opacity:0}, lineStyle:{width:3},
      textStyle:{fontSize:23, color:'#000', fontFamily:FF, lineHeight:28,
        rich:{sup:{fontSize:16, lineHeight:14, padding:[0,0,14,0], color:'#000', fontFamily:FF}}}}
  ],
  xAxis:[
    Object.assign({type:'value', min:xTicks.min, max:xTicks.max, interval:xTicks.interval, position:'bottom',
      axisLabel:{color:'#000', fontSize:21, fontFamily:FF, margin:11},
      name:xName, nameLocation:'middle', nameGap:36, nameMoveOverlap:false,
      nameTextStyle:{color:'#000', fontSize:24, fontFamily:FF}}, axisCommon),
    Object.assign({type:'value', min:xTicks.min, max:xTicks.max, interval:xTicks.interval, position:'top',
      axisLabel:{show:false}}, axisCommon)
  ],
  yAxis:[
    Object.assign({type:'value', min:yTicks.min, max:yTicks.max, interval:yTicks.interval, position:'left',
      axisLabel:{color:'#000', fontSize:21, fontFamily:FF, margin:8, showMaxLabel:false},
      name:yName, nameLocation:'middle', nameGap:51, nameRotate:90, nameMoveOverlap:false,
      nameTextStyle:{color:'#000', fontSize:24, fontFamily:FF,
        rich:{sup:{fontSize:16, lineHeight:14, padding:[0,0,14,0], color:'#000', fontFamily:FF}}}}, axisCommon),
    Object.assign({type:'value', min:yTicks.min, max:yTicks.max, interval:yTicks.interval, position:'right',
      axisLabel:{show:false}}, axisCommon)
  ],
  series: series
});
</script></body></html>
